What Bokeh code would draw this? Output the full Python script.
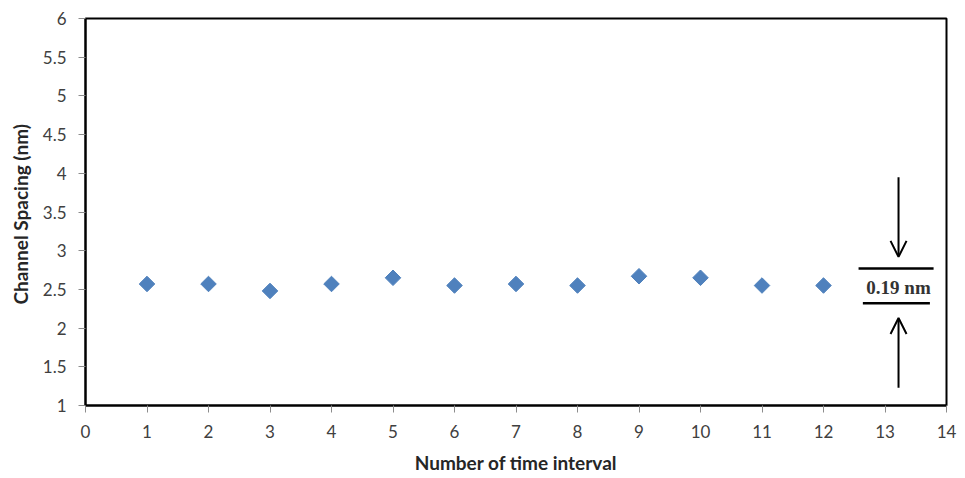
from bokeh.plotting import figure
from bokeh.models import Arrow, OpenHead, Label, Range1d, FixedTicker
from bokeh.embed import file_html
from bokeh.resources import INLINE

intervals = [1, 2, 3, 4, 5, 6, 7, 8, 9, 10, 11, 12]
spacing_nm = [2.57, 2.57, 2.48, 2.57, 2.65, 2.55, 2.57, 2.55, 2.67, 2.65, 2.55, 2.55]
x_ticks = list(range(0, 15))
y_ticks = [1, 1.5, 2, 2.5, 3, 3.5, 4, 4.5, 5, 5.5, 6]
spread_label = "0.19 nm"

p = figure(width=965, height=478, output_backend="svg", toolbar_location=None,
           x_range=Range1d(0, 14), y_range=Range1d(1, 6),
           min_border_left=85, min_border_right=19, min_border_top=18, min_border_bottom=73)

p.scatter(intervals, spacing_nm, marker="square", angle=0.785398, size=11,
          fill_color="#4F81BD", line_color="#4F81BD")

p.xgrid.visible = False
p.ygrid.visible = False
p.outline_line_color = "black"
p.outline_line_width = 2

p.xaxis.ticker = FixedTicker(ticks=x_ticks)
p.yaxis.ticker = FixedTicker(ticks=y_ticks)
p.yaxis.major_label_overrides = {1: "1", 1.5: "1.5", 2: "2", 2.5: "2.5", 3: "3", 3.5: "3.5",
                                 4: "4", 4.5: "4.5", 5: "5", 5.5: "5.5", 6: "6"}
for ax in (p.xaxis[0], p.yaxis[0]):
    ax.axis_line_color = "black"
    ax.axis_line_width = 2
    ax.major_tick_line_color = "#8c8c8c"
    ax.major_tick_out = 7
    ax.major_tick_in = 0
    ax.minor_tick_line_color = None
    ax.major_label_text_font = "Lato"
    ax.major_label_text_font_size = "17px"
    ax.major_label_text_color = "#404040"
    ax.axis_label_text_font = "Lato"
    ax.axis_label_text_font_style = "bold"
    ax.axis_label_text_font_size = "19px"
    ax.axis_label_text_color = "#262626"

p.xaxis.axis_label = "Number of time interval"
p.yaxis.axis_label = "Channel Spacing  (nm)"
p.xaxis.major_label_standoff = 12
p.yaxis.major_label_standoff = 12
p.xaxis.axis_label_standoff = 10
p.yaxis.axis_label_standoff = 8

# annotation: spread marker
ax0 = 13.22
p.add_layout(Arrow(end=OpenHead(size=16, line_width=2, line_color="black"),
                   x_start=ax0, y_start=3.95, x_end=ax0, y_end=2.92,
                   line_color="black", line_width=2))
p.add_layout(Arrow(end=OpenHead(size=16, line_width=2, line_color="black"),
                   x_start=ax0, y_start=1.23, x_end=ax0, y_end=2.13,
                   line_color="black", line_width=2))
p.segment(x0=[12.57, 12.64], y0=[2.77, 2.32], x1=[13.79, 13.73], y1=[2.77, 2.32],
          line_color="black", line_width=2.5)
p.add_layout(Label(x=ax0, y=2.53, text=spread_label, text_align="center",
                   text_baseline="middle", text_font="Liberation Serif",
                   text_font_style="bold", text_font_size="19px", text_color="#333333"))

open("out.html", "w").write(file_html(p, INLINE))
